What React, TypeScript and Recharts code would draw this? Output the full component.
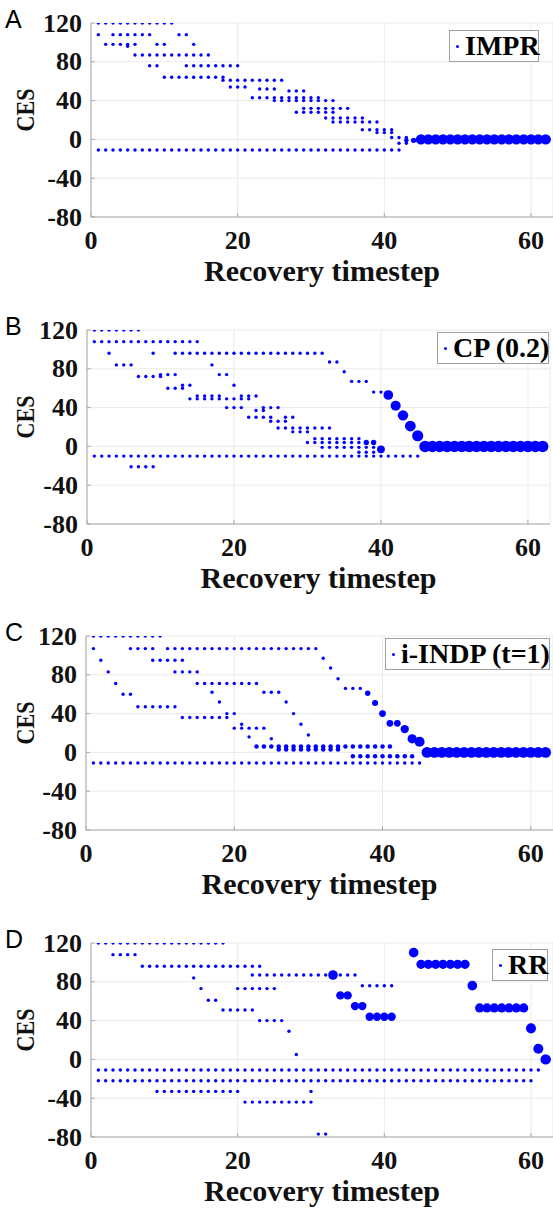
import React from "react";
import { ScatterChart, Scatter, XAxis, YAxis, CartesianGrid, Legend, Label } from "recharts";

// [y, x values at that level, marker weight (default 1)]
type Row = [number, number[], number?];
// [x, y, marker weight]
type Big = [number, number, number];

const xTicks = [0, 20, 40, 60];
const yTicks = [-80, -40, 0, 40, 80, 120];

// ---- A: IMPR
const imprRows: Row[] = [
  [120, [1, 2, 3, 4, 5, 6, 7, 8, 9, 10, 11]],
  [108, [1, 3, 4, 5, 6, 7, 8, 12, 13]],
  [98, [2, 3, 4, 5, 6, 9, 10, 14]],
  [96, [5]],
  [87, [6, 7, 8, 9, 10, 11, 12, 13, 14, 15, 16]],
  [76, [8, 9, 13, 14, 15, 16, 17, 18, 19, 20]],
  [64, [10, 11, 12, 13, 14, 15, 16, 17, 18]],
  [61, [18, 19, 20, 21, 22, 23, 24, 25, 26]],
  [54, [19, 20, 21]],
  [52, [23, 24, 25]],
  [50, [27, 28, 29]],
  [43, [22, 23, 24, 25, 26, 27, 28, 29, 30, 31]],
  [40, [25, 26, 27, 28, 29, 30, 31, 32, 33]],
  [32, [29, 30, 31, 32, 33, 34, 35]],
  [28, [28, 29, 30, 31, 32, 33]],
  [22, [32, 33, 34, 35, 36, 37]],
  [18, [33, 34, 35, 36, 37, 38, 39]],
  [10, [37, 38, 39, 40, 41]],
  [7, [39, 40, 41]],
  [2, [41, 42, 43]],
  [-4, [42, 43]],
  [-11, [1, 2, 3, 4, 5, 6, 7, 8, 9, 10, 11, 12, 13, 14, 15, 16, 17, 18, 19, 20, 21, 22, 23, 24, 25, 26, 27, 28, 29, 30, 31, 32, 33, 34, 35, 36, 37, 38, 39, 40, 41, 42]],
];
const imprBig: Big[] = [
  [43, -1, 2], [44, -1, 3],
  [45, 0, 13], [46, 0, 13], [47, 0, 13], [48, 0, 13], [49, 0, 13], [50, 0, 13],
  [51, 0, 13], [52, 0, 13], [53, 0, 13], [54, 0, 13], [55, 0, 13], [56, 0, 13],
  [57, 0, 13], [58, 0, 13], [59, 0, 13], [60, 0, 13], [61, 0, 13], [62, 0, 13],
];

// ---- B: CP (0.2)
const cpRows: Row[] = [
  [120, [1, 2, 3, 4, 5, 6, 7]],
  [108, [1, 2, 3, 4, 5, 6, 7, 8, 9, 10, 11, 12, 13, 14, 15]],
  [96, [3, 9, 12, 13, 14, 15, 16, 17, 18, 19, 20, 21, 22, 23, 24, 25, 26, 27, 28, 29, 30, 31, 32]],
  [87, [33, 34]],
  [84, [4, 5, 6, 17]],
  [77, [35]],
  [74, [10, 11, 12, 18, 19]],
  [72, [7, 8, 9, 10]],
  [67, [36, 37, 38]],
  [63, [13, 14, 20]],
  [60, [11, 12, 13]],
  [56, [39, 40]],
  [52, [15, 16, 17, 18, 21, 22, 23]],
  [49, [14, 15, 16, 17, 18, 19, 20, 21, 22]],
  [40, [19, 20, 21, 24, 25, 26]],
  [37, [23, 24]],
  [30, [22, 23, 24, 25, 27, 28]],
  [26, [25, 26, 27]],
  [19, [26, 27, 28, 29, 30, 31, 32, 33]],
  [15, [28, 29, 30]],
  [8, [31, 32, 33, 34, 35, 36, 37]],
  [4, [30, 31, 32, 33, 34, 35, 36, 37]],
  [-1, [32, 33, 34, 35, 36, 37, 38, 39]],
  [-6, [37, 38, 39]],
  [-10, [1, 2, 3, 4, 5, 6, 7, 8, 9, 10, 11, 12, 13, 14, 15, 16, 17, 18, 19, 20, 21, 22, 23, 24, 25, 26, 27, 28, 29, 30, 31, 32, 33, 34, 35, 36, 37, 38, 39, 40, 41, 42, 43, 44, 45]],
  [-21, [6, 7, 8, 9]],
];
const cpBig: Big[] = [
  [38, 4, 3], [39, 4, 3], [40, -3, 7],
  [41, 53, 11], [42, 42, 12], [43, 32, 13], [44, 21, 14], [45, 11, 15],
  [46, 0, 16], [47, 0, 16], [48, 0, 16], [49, 0, 16], [50, 0, 16], [51, 0, 16],
  [52, 0, 16], [53, 0, 16], [54, 0, 16], [55, 0, 16], [56, 0, 16], [57, 0, 16],
  [58, 0, 16], [59, 0, 16], [60, 0, 16], [61, 0, 16], [62, 0, 16],
];

// ---- C: i-INDP (t=1)
const indpRows: Row[] = [
  [120, [1, 2, 3, 4, 5, 6, 7, 8, 9, 10]],
  [107, [1, 6, 7, 8, 9, 11, 12, 13, 14, 15, 16, 17, 18, 19, 20, 21, 22, 23, 24, 25, 26, 27, 28, 29, 30, 31]],
  [97, [32]],
  [95, [2, 9, 10, 11, 12, 13]],
  [87, [33]],
  [83, [3, 12, 13, 14, 15]],
  [76, [34]],
  [71, [4, 15, 16, 17, 18, 19, 20, 21, 22, 23]],
  [66, [35, 36, 37]],
  [62, [17, 24, 25, 26]],
  [60, [5, 6]],
  [52, [18, 27]],
  [47, [7, 8, 9, 10, 11, 12]],
  [40, [19, 20, 28]],
  [36, [13, 14, 15, 16, 17, 18, 19]],
  [29, [21, 29]],
  [25, [20, 21, 22, 23, 24]],
  [18, [30]],
  [16, [22]],
  [14, [25]],
  [6, [23, 24, 25, 26, 27, 28, 29, 30, 31, 32, 33, 34, 35, 36, 37, 38, 39, 40, 41], 2],
  [3, [26, 27, 28, 29, 30, 31, 32, 33, 34], 2],
  [-4, [36, 37, 38, 39, 40, 41, 42, 43, 44], 2],
  [-11, [1, 2, 3, 4, 5, 6, 7, 8, 9, 10, 11, 12, 13, 14, 15, 16, 17, 18, 19, 20, 21, 22, 23, 24, 25, 26, 27, 28, 29, 30, 31, 32, 33, 34, 35, 36, 37, 38, 39, 40, 41, 42, 43, 44, 45]],
];
const indpBig: Big[] = [
  [38, 61, 3], [39, 51, 4], [40, 40, 5], [41, 30, 5], [42, 30, 5],
  [43, 24, 8], [44, 14, 10], [45, 11, 12],
  [46, 0, 14], [47, 0, 14], [48, 0, 14], [49, 0, 14], [50, 0, 14], [51, 0, 14],
  [52, 0, 14], [53, 0, 14], [54, 0, 14], [55, 0, 14], [56, 0, 14], [57, 0, 14],
  [58, 0, 14], [59, 0, 14], [60, 0, 14], [61, 0, 14], [62, 0, 14],
];

// ---- D: RR
const rrRows: Row[] = [
  [120, [1, 2, 3, 4, 5, 6, 7, 8, 9, 10, 11, 12, 13, 14, 15, 16, 17, 18]],
  [108, [3, 4, 5, 6]],
  [96, [7, 8, 9, 10, 11, 12, 13, 14, 15, 16, 17, 18, 19, 20, 21, 22, 23]],
  [87, [22, 23, 24, 25, 26, 27, 28, 29, 30, 31, 32, 34, 35, 36]],
  [84, [14]],
  [76, [37, 38, 39, 40, 41]],
  [73, [15, 20, 21, 22, 23, 24, 25]],
  [61, [16, 17]],
  [51, [18, 19, 20, 21, 22]],
  [40, [23, 24, 25, 26]],
  [29, [27]],
  [5, [28]],
  [-11, [1, 2, 3, 4, 5, 6, 7, 8, 9, 10, 11, 12, 13, 14, 15, 16, 17, 18, 19, 20, 21, 22, 23, 24, 25, 26, 27, 28, 29, 30, 31, 32, 33, 34, 35, 36, 37, 38, 39, 40, 41, 42, 43, 44, 45, 46, 47, 48, 49, 50, 51, 52, 53, 54, 55, 56, 57, 58, 59, 60, 61]],
  [-22, [1, 2, 3, 4, 5, 6, 7, 8, 9, 10, 11, 12, 13, 14, 15, 16, 17, 18, 19, 20, 21, 22, 23, 24, 25, 26, 27, 28, 29, 30, 31, 32, 33, 34, 35, 36, 37, 38, 39, 40, 41, 42, 43, 44, 45, 46, 47, 48, 49, 50, 51, 52, 53, 54, 55, 56, 57, 58, 59, 60]],
  [-33, [9, 10, 11, 12, 13, 14, 15, 16, 17, 18, 19, 20, 30]],
  [-44, [21, 22, 23, 24, 25, 26, 27, 28, 29, 30]],
  [-77, [31, 32]],
];
const rrBig: Big[] = [
  [33, 87, 11], [34, 66, 8], [35, 66, 8], [36, 55, 8], [37, 55, 8],
  [38, 44, 8], [39, 44, 8], [40, 44, 8], [41, 44, 8],
  [44, 110, 11],
  [45, 98, 10], [46, 98, 10], [47, 98, 10], [48, 98, 10], [49, 98, 10], [50, 98, 10], [51, 98, 10],
  [52, 76, 11],
  [53, 53, 10], [54, 53, 10], [55, 53, 10], [56, 53, 10], [57, 53, 10], [58, 53, 10], [59, 53, 10],
  [60, 32, 12], [61, 11, 12], [62, 0, 13],
];

const SERIF = '"Liberation Serif", "Times New Roman", serif';
const BLUE = "#0000ff";
const AXIS = "#a8a8a8";
const GRID = "#ebebeb";
const INK = "#111";

const panels = [
  { letter: "A", name: "IMPR", rows: imprRows, big: imprBig, top: 0, left: 91, right: 0, legend: { left: 449, top: 30, width: 90 } },
  { letter: "B", name: "CP (0.2)", rows: cpRows, big: cpBig, top: 307, left: 87, right: 3, legend: { left: 437, top: 25, width: 112 } },
  { letter: "C", name: "i-INDP (t=1)", rows: indpRows, big: indpBig, top: 612.5, left: 86, right: 0, legend: { left: 385, top: 25.5, width: 165 } },
  { letter: "D", name: "RR", rows: rrRows, big: rrBig, top: 919.5, left: 91, right: 0, legend: { left: 492, top: 29.5, width: 56 } },
];

const toPoints = (rows: Row[]) =>
  rows.flatMap(([y, xs, w]) => xs.map((x) => ({ x, y, w: w ?? 1 })));
const toBig = (big: Big[]) => big.map(([x, y, w]) => ({ x, y, w }));

// marker radius grows with the square root of the weight
const Dot = (p: any) =>
  p.cx == null ? null : (
    <circle cx={p.cx} cy={p.cy} r={0.35 + 1.35 * Math.sqrt(p.payload.w)} fill={BLUE} />
  );

const XTick = ({ x, y, payload }: any) => (
  <g>
    <line x1={x} y1={y} x2={x} y2={y - 4} stroke={AXIS} />
    <text x={x} y={y + 31.7} textAnchor="middle" fontFamily={SERIF} fontWeight="bold" fontSize={26} fill={INK}>
      {payload.value}
    </text>
  </g>
);

const YTick = ({ x, y, payload }: any) => (
  <g>
    <line x1={x} y1={y} x2={x + 4} y2={y} stroke={AXIS} />
    <text x={x - 9} y={y + 8.5} textAnchor="end" fontFamily={SERIF} fontWeight="bold" fontSize={26} fill={INK}>
      {payload.value}
    </text>
  </g>
);

const LegendBox = ({ name, width }: { name: string; width: number }) => (
  <div
    style={{
      boxSizing: "border-box",
      width,
      height: 32,
      border: "1px solid #a0a0a0",
      background: "#fff",
      display: "flex",
      alignItems: "center",
      paddingLeft: 6,
      fontFamily: SERIF,
      fontWeight: "bold",
      fontSize: 28,
      color: "#000",
      whiteSpace: "nowrap",
    }}
  >
    <span style={{ width: 3, height: 3, borderRadius: "50%", background: BLUE, marginRight: 6, flexShrink: 0 }} />
    {name}
  </div>
);

function Panel({ cfg }: { cfg: (typeof panels)[number] }) {
  const plotW = 553 - cfg.left - cfg.right;
  const small = toPoints(cfg.rows);
  const big = toBig(cfg.big);
  return (
    <div style={{ position: "absolute", left: 0, top: cfg.top }}>
      <ScatterChart width={553} height={290} margin={{ top: 23, right: cfg.right, bottom: 0, left: 0 }}>
        <CartesianGrid stroke={GRID} />
        <XAxis
          type="number"
          dataKey="x"
          domain={[0, 63]}
          ticks={xTicks}
          interval={0}
          height={73}
          allowDataOverflow
          axisLine={{ stroke: AXIS }}
          tickLine={false}
          tickSize={0}
          tickMargin={0}
          tick={(p: any) => <XTick {...p} />}
        >
          <Label
            content={() => (
              <text
                x={cfg.left + plotW / 2}
                y={281}
                textAnchor="middle"
                fontFamily={SERIF}
                fontWeight="bold"
                fontSize={29}
                textLength={236}
                lengthAdjust="spacingAndGlyphs"
                fill={INK}
              >
                Recovery timestep
              </text>
            )}
          />
        </XAxis>
        <YAxis
          type="number"
          dataKey="y"
          domain={[-80, 120]}
          ticks={yTicks}
          interval={0}
          width={cfg.left}
          allowDataOverflow
          axisLine={{ stroke: AXIS }}
          tickLine={false}
          tickSize={0}
          tickMargin={0}
          tick={(p: any) => <YTick {...p} />}
        >
          <Label
            content={() => (
              <g>
                <text x={5} y={28} fontFamily='"Liberation Sans", Arial, sans-serif' fontSize={25} fill="#000">
                  {cfg.letter}
                </text>
                <text
                  transform="translate(34, 110) rotate(-90)"
                  textAnchor="middle"
                  fontFamily={SERIF}
                  fontWeight="bold"
                  fontSize={26}
                  textLength={43}
                  lengthAdjust="spacingAndGlyphs"
                  fill={INK}
                >
                  CES
                </text>
              </g>
            )}
          />
        </YAxis>
        <Legend
          layout="vertical"
          align="center"
          verticalAlign="middle"
          wrapperStyle={{ left: cfg.legend.left, top: cfg.legend.top, width: cfg.legend.width }}
          content={() => <LegendBox name={cfg.name} width={cfg.legend.width} />}
        />
        <Scatter name={cfg.name} data={small} shape={Dot} isAnimationActive={false} />
        <Scatter name={cfg.name + " large"} data={big} shape={Dot} isAnimationActive={false} />
      </ScatterChart>
    </div>
  );
}

export default function App() {
  return (
    <div style={{ position: "absolute", left: 0, top: 0, width: 553, height: 1212, overflow: "hidden", background: "#fff" }}>
      {panels.map((cfg) => (
        <Panel key={cfg.letter} cfg={cfg} />
      ))}
    </div>
  );
}
